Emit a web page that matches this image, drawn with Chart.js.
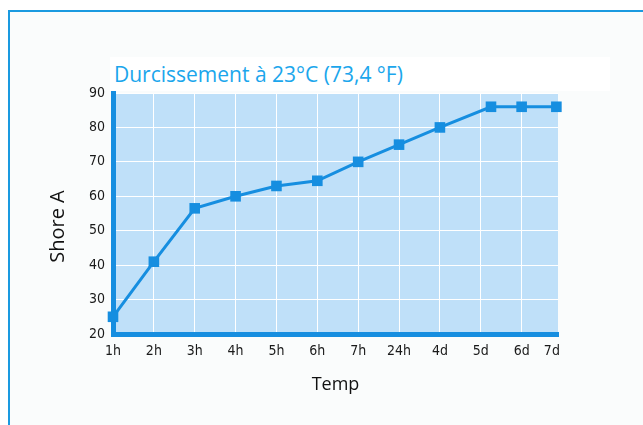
<!DOCTYPE html>
<html>
<head>
<meta charset="utf-8">
<script src="https://cdn.jsdelivr.net/npm/chart.js@4.4.1/dist/chart.umd.min.js"></script>
<style>
  html, body { margin: 0; padding: 0; width: 643px; height: 425px; overflow: hidden; background: #ffffff; }
  #frame { position: absolute; left: 8px; top: 10px; width: 700px; height: 500px; border: 2px solid #1a9ae0; background: #fafcfc; box-sizing: border-box; }
  #wrap { position: absolute; left: 0; top: 0; width: 643px; height: 425px; }
  #titlebox { position: absolute; left: 110px; top: 57px; width: 500px; height: 34px; background: #ffffff; }
  #title { position: absolute; left: 114px; top: 60px; font-family: 'Open Sans', sans-serif; font-size: 21px; color: #1ba6ec; white-space: nowrap; line-height: 28px; }
</style>
</head>
<body>
<div id="frame"></div>
<div id="titlebox"></div>
<div id="title">Durcissement à 23°C (73,4 °F)</div>
<div id="wrap"><canvas id="c" width="643" height="425"></canvas></div>
<script>
// Data
const tickLabels = ['1h', '2h', '3h', '4h', '5h', '6h', '7h', '24h', '4d', '5d', '6d', '7d'];
const tickPositions = [0, 1, 2, 3, 4, 5, 6, 7, 8, 9, 10, 10.74];
const pointX = [0, 1, 2, 3, 4, 5, 6, 7, 8, 9.25, 10, 10.85];
const shoreA = [25, 41, 56.5, 60, 63, 64.5, 70, 75, 80, 86, 86, 86];
const yTicks = [20, 30, 40, 50, 60, 70, 80, 90];

const blue = '#168ee0';
const tickFont = { family: "'DejaVu Sans', sans-serif", size: 14, weight: 'condensed' };

const plotBg = {
  id: 'plotBg',
  beforeDraw(chart) {
    const { ctx, chartArea: a } = chart;
    ctx.save();
    ctx.fillStyle = '#bfe0f9';
    ctx.fillRect(a.left, a.top, a.right - a.left, a.bottom - a.top);
    ctx.restore();
  }
};

new Chart(document.getElementById('c'), {
  type: 'line',
  data: {
    datasets: [{
      data: pointX.map((x, i) => ({ x: x, y: shoreA[i] })),
      borderColor: blue,
      backgroundColor: blue,
      borderWidth: 3,
      pointStyle: 'rect',
      pointRadius: 7.5,
      pointHoverRadius: 7.5,
      pointBorderWidth: 0,
      tension: 0,
      clip: false
    }]
  },
  options: {
    responsive: false,
    animation: false,
    events: [],
    layout: { padding: { left: 46, right: 85, top: 93, bottom: 29 } },
    plugins: { legend: { display: false }, title: { display: false }, tooltip: { enabled: false } },
    scales: {
      x: {
        type: 'linear',
        min: 0,
        max: 10.89,
        afterBuildTicks(s) { s.ticks = tickPositions.map(v => ({ value: v })); },
        afterFit(s) { s.height = 62; },
        ticks: {
          autoSkip: false,
          maxRotation: 0,
          padding: 9,
          color: '#1a1a1a',
          font: tickFont,
          callback: (v, i) => tickLabels[i]
        },
        grid: {
          color: (ctx) => (ctx.index === tickLabels.length - 1 ? 'rgba(0,0,0,0)' : '#ffffff'),
          lineWidth: 1,
          drawTicks: false
        },
        border: { display: true, color: blue, width: 5 },
        title: {
          display: true,
          text: 'Temp',
          color: '#111',
          font: { family: "'Open Sans', sans-serif", size: 18 },
          padding: 0
        }
      },
      y: {
        type: 'linear',
        min: 20,
        max: 90,
        afterBuildTicks(s) { s.ticks = yTicks.map(v => ({ value: v })); },
        afterFit(s) { s.width = 67; },
        ticks: {
          padding: 8,
          color: '#1a1a1a',
          font: tickFont
        },
        grid: { color: '#ffffff', lineWidth: 1, drawTicks: false },
        border: { display: true, color: blue, width: 5 },
        title: {
          display: true,
          text: 'Shore A     ',
          color: '#111',
          font: { family: "'Open Sans', sans-serif", size: 20 },
          padding: 0
        }
      }
    }
  },
  plugins: [plotBg]
});
</script>
</body>
</html>
